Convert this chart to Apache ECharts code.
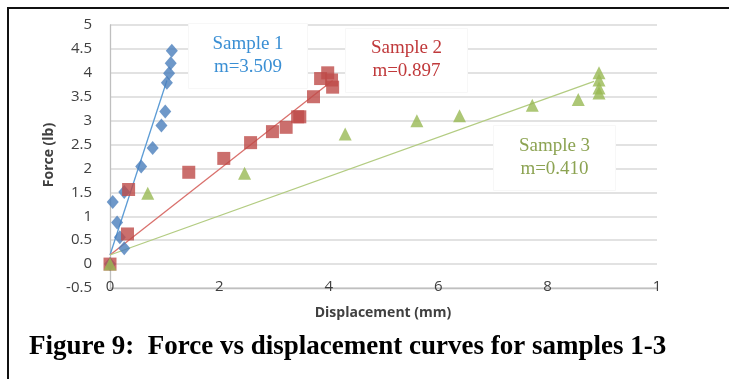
<!DOCTYPE html>
<html>
<head>
<meta charset="utf-8">
<script src="https://cdn.jsdelivr.net/npm/echarts@6/dist/echarts.min.js"></script>
<style>html,body{margin:0;padding:0;background:#fff;}#chart{width:729px;height:379px;}</style>
</head>
<body>
<div id="chart"></div>
<script>
// ---- data ----
var sample1 = [[0,0],[0.05,1.30],[0.13,0.87],[0.18,0.56],[0.26,0.33],[0.26,1.51],[0.57,2.04],[0.78,2.43],[0.94,2.90],[1.01,3.19],[1.04,3.79],[1.08,3.99],[1.11,4.20],[1.13,4.46]];
var sample2 = [[0,0],[0.32,0.63],[0.34,1.56],[1.44,1.92],[2.08,2.21],[2.57,2.54],[2.97,2.77],[3.22,2.86],[3.43,3.08],[3.47,3.08],[3.72,3.50],[3.85,3.88],[3.98,4.00],[4.05,3.85],[4.07,3.70]];
var sample3 = [[0,0],[0.69,1.48],[2.46,1.90],[4.30,2.72],[5.61,3.00],[6.39,3.10],[7.72,3.32],[8.56,3.44],[8.94,4.00],[8.94,3.85],[8.94,3.68],[8.94,3.58]];
// trendline end points
var trend1 = [[0,0.19],[1.04,3.84]];
var trend2 = [[0,0.19],[4.07,3.84]];
var trend3 = [[0,0.19],[8.85,3.82]];
var slopeLabels = ['m=3.509','m=0.897','m=0.410'];
var sampleNames = ['Sample 1','Sample 2','Sample 3'];
var xTickValues = [0,2,4,6,8,10];
var xTickLabels = ['0','2','4','6','8','1'];
var xTitle = 'Displacement (mm)';
var yTitle = 'Force (lb)';
var caption = 'Figure 9:  Force vs displacement curves for samples 1-3';

var chart = echarts.init(document.getElementById('chart'));
var tickFont = {fontFamily:'Open Sans', fontSize:15, color:'#404040'};
function box(x, y, w, h, name, m, color) {
  return {
    type:'group', left:x, top:y, children:[
      {type:'rect', shape:{x:0,y:0,width:w,height:h}, style:{fill:'#fff', stroke:'#f7f7f7', lineWidth:1}, z:10},
      {type:'text', x:w/2, y:h/2-12, style:{text:name, fill:color, font:'19px "Liberation Serif"', textAlign:'center', textVerticalAlign:'middle'}, z:11},
      {type:'text', x:w/2, y:h/2+11, style:{text:m, fill:color, font:'19px "Liberation Serif"', textAlign:'center', textVerticalAlign:'middle'}, z:11}
    ]
  };
}
var option = {
  animation:false,
  backgroundColor:'#fff',
  grid:{left:110, right:72, top:25, bottom:91, containLabel:false},
  xAxis:{
    type:'value', min:0, max:10, interval:2,
    axisLine:{show:true, onZero:false, lineStyle:{color:'#bfbfbf', width:1.3}},
    axisTick:{show:false},
    splitLine:{show:false},
    axisLabel:Object.assign({margin:-9, formatter:function(v){var i=xTickValues.indexOf(v);return i>=0?xTickLabels[i]:'';}}, tickFont)
  },
  yAxis:{
    type:'value', min:-0.5, max:5, interval:0.5,
    axisLine:{show:true, onZero:false, lineStyle:{color:'#bfbfbf', width:1.3}},
    axisTick:{show:false},
    splitLine:{show:true, lineStyle:{color:'#d9d9d9', width:1.5}},
    axisLabel:Object.assign({margin:18}, tickFont)
  },
  series:[
    {type:'line', data:trend1, symbol:'none', lineStyle:{color:'#5b9bd5', width:1.3}, z:2},
    {type:'line', data:trend2, symbol:'none', lineStyle:{color:'#d9706c', width:1.3}, z:2},
    {type:'line', data:trend3, symbol:'none', lineStyle:{color:'#b3cc82', width:1.3}, z:2},
    {type:'scatter', name:sampleNames[0], data:sample1, symbol:'diamond', symbolSize:[12,14], itemStyle:{color:'#4a7ebb'}, z:3},
    {type:'scatter', name:sampleNames[1], data:sample2, symbol:'rect', symbolSize:13, itemStyle:{color:'#be4b48'}, z:4},
    {type:'scatter', name:sampleNames[2], data:sample3, symbol:'triangle', symbolSize:[13,13], itemStyle:{color:'#98b954'}, z:5}
  ],
  graphic:[
    {type:'polyline', shape:{points:[[8,379],[8,8],[729,8]]}, style:{stroke:'#111', lineWidth:2, fill:null}},
    box(188, 23, 119, 65, sampleNames[0], slopeLabels[0], '#3a8fd4'),
    box(345, 28, 122, 64, sampleNames[1], slopeLabels[1], '#c0393b'),
    box(493, 125, 122, 65, sampleNames[2], slopeLabels[2], '#8ca352'),
    {type:'text', x:383, y:313, style:{text:xTitle, font:'bold 14px "Open Sans"', fill:'#404040', textAlign:'center', textVerticalAlign:'middle'}},
    {type:'text', x:49, y:155, rotation:Math.PI/2, style:{text:yTitle, font:'bold 14px "Open Sans"', fill:'#404040', textAlign:'center', textVerticalAlign:'middle'}},
    {type:'text', x:29, y:347, style:{text:caption, font:'bold 27px "Liberation Serif"', fill:'#000', textAlign:'left', textVerticalAlign:'middle'}}
  ]
};
chart.setOption(option);
</script>
</body>
</html>
